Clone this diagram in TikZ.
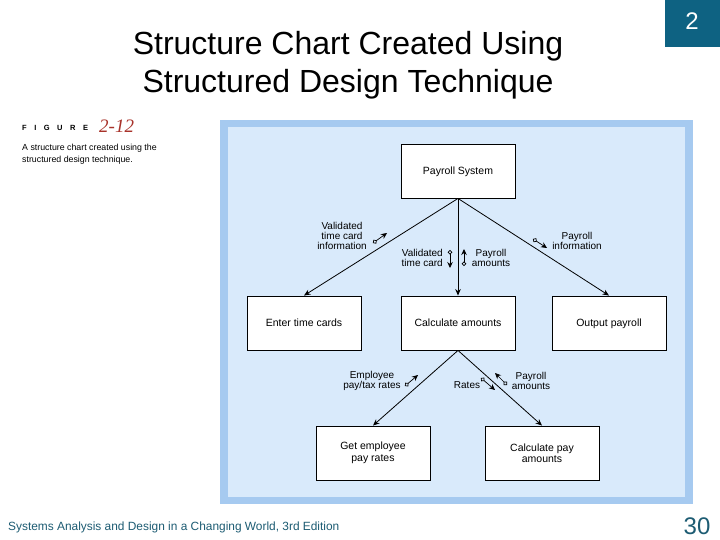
\documentclass[tikz,border=0pt]{standalone}
\usepackage{fontspec}
\setmainfont{Liberation Sans}
\newfontfamily\figserif{Liberation Serif}
\usetikzlibrary{arrows.meta}
\definecolor{panelborder}{HTML}{A6CAF0}
\definecolor{panelfill}{HTML}{D9EAFB}
\definecolor{tealbox}{HTML}{0E6282}
\definecolor{footteal}{HTML}{1D5C73}
\definecolor{figred}{HTML}{A8322A}
\begin{document}
\begin{tikzpicture}[x=1pt,y=-1pt,
  box/.style={draw=black,line width=0.9pt,fill=white,minimum width=114pt,minimum height=54pt,inner sep=0pt,font=\fontsize{10.5}{11.5}\selectfont,align=center},
  box1/.style={box,text height=7.5pt,text depth=1pt},
  conn/.style={line width=0.8pt,-{Stealth[length=6.5pt,width=5.5pt]}},
  couple/.style={line width=0.7pt,{Circle[open,length=4.5pt,width=4.5pt]}-{Stealth[length=6pt,width=5.5pt]}},
  lbl/.style={font=\fontsize{10}{10}\selectfont,align=center,inner sep=0pt},
  lblr/.style={font=\fontsize{10}{10}\selectfont,align=right,inner sep=0pt},
  title/.style={font=\fontsize{32}{36}\selectfont,inner sep=0pt}]
\useasboundingbox (0,0) rectangle (720,540);
\fill[white] (0,0) rectangle (720,540);
% title
\node[title] (t1) at (348,46) {Structure Chart Created Using};
\node[title] (t2) at (348,84) {Structured Design Technique};
% slide number box
\fill[tealbox] (665,0) rectangle (720,47);
\node[font=\fontsize{24}{24}\selectfont,text=white,inner sep=0pt] (num) at (692,21) {2};
% figure label
\node[anchor=west,font=\fontsize{7.5}{8}\selectfont\bfseries,inner sep=0pt] (fig) at (22,128) {F\hspace{7.5pt}I\hspace{7.5pt}G\hspace{7.5pt}U\hspace{7.5pt}R\hspace{7.5pt}E};
\node[anchor=west,font=\figserif\itshape\fontsize{19}{20}\selectfont,text=figred,inner sep=0pt] (fignum) at (99,126) {2-12};
\node[anchor=north west,font=\fontsize{8.8}{12}\selectfont,align=left,inner sep=0pt] (cap) at (22,144) {A structure chart created using the\\structured design technique.};
% panel
\fill[panelborder] (220,120) rectangle (693,504);
\fill[panelfill] (228,127) rectangle (685,497);
% boxes
\node[box1] (ps) at (458,171) {Payroll System};
\node[box1] (et) at (304,323) {Enter time cards};
\node[box1] (ca) at (458,323) {Calculate amounts};
\node[box1] (op) at (609,323) {Output payroll};
\node[box] (ge) at (373,453) {Get employee\\pay rates};
\node[box] (cp) at (542,453) {Calculate pay\\amounts};
% connectors
\draw[conn] (ps.south) -- (et.north);
\draw[conn] (ps.south) -- (ca.north);
\draw[conn] (ps.south) -- (op.north);
\draw[conn] (ca.south) -- (ge.north);
\draw[conn] (ca.south) -- (cp.north);
% couples
\coordinate (c1a) at (373,243); \coordinate (c1b) at (387,233);
\coordinate (c2a) at (450,250); \coordinate (c2b) at (450,268);
\coordinate (c3a) at (464,266); \coordinate (c3b) at (464,249);
\coordinate (c4a) at (533,239); \coordinate (c4b) at (547,248);
\coordinate (c5a) at (405,386); \coordinate (c5b) at (418,375);
\coordinate (c6a) at (481,378); \coordinate (c6b) at (495,390);
\coordinate (c7a) at (507,385); \coordinate (c7b) at (495,373);
\draw[couple] (c1a) -- (c1b);
\draw[couple] (c2a) -- (c2b);
\draw[couple] (c3a) -- (c3b);
\draw[couple] (c4a) -- (c4b);
\draw[couple] (c5a) -- (c5b);
\draw[couple] (c6a) -- (c6b);
\draw[couple] (c7a) -- (c7b);
% couple labels
\node[lbl] (l1) at (342,236) {Validated\\time card\\information};
\node[lblr,anchor=east] (l2) at (443,258) {Validated\\time card};
\node[lbl] (l3) at (491,258) {Payroll\\amounts};
\node[lbl] (l4) at (577,241) {Payroll\\information};
\node[lbl] (l5) at (372,381) {Employee\\pay/tax rates};
\node[lbl] (l6) at (467,385) {Rates};
\node[lbl] (l7) at (531,381) {Payroll\\amounts};
% footer
\node[anchor=west,font=\fontsize{11.9}{12}\selectfont,text=footteal,inner sep=0pt] (foot) at (8,527) {Systems Analysis and Design in a Changing World, 3rd Edition};
\node[font=\fontsize{24}{24}\selectfont,text=footteal,inner sep=0pt] (pg) at (697,526) {30};
\end{tikzpicture}
\end{document}
